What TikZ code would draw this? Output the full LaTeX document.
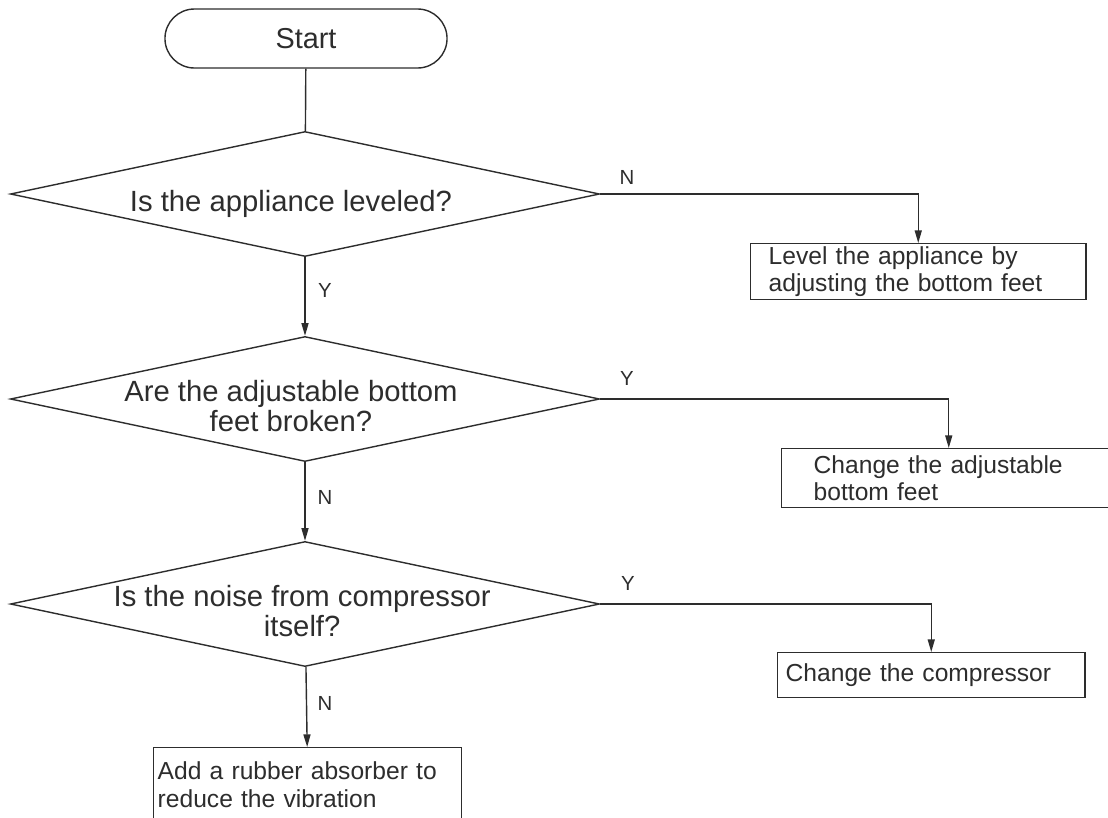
\documentclass[tikz,border=0pt]{standalone}
\usepackage{fontspec}
\setmainfont{Liberation Sans}
\usepackage{tikz}
\usetikzlibrary{arrows.meta, positioning, shapes.geometric, shapes.misc}
\usepackage{xcolor}
\definecolor{inkcolor}{RGB}{45,45,45}
% question text takes no room, so the diamond keeps its own size
\newcommand{\asktext}[2][-20pt]{\makebox[0pt]{\hspace{#1}\smash{\raisebox{-0.62em}{%
  \begin{tabular}{@{}c@{}}#2\end{tabular}}}}}
\tikzset{
  term/.style   = {rounded rectangle, draw=inkcolor, line width=1pt, minimum width=70.5mm,
                   minimum height=14.75mm, inner sep=0pt, font=\fontsize{20.5}{23}\selectfont},
  quest/.style  = {diamond, draw=inkcolor, line width=1pt, minimum width=147.25mm,
                   minimum height=31.25mm, inner sep=0pt, font=\fontsize{20.8}{20.5}\selectfont},
  fixbox/.style = {rectangle, draw=inkcolor, line width=1pt, anchor=north west, align=left,
                   inner ysep=0pt, font=\fontsize{17.5}{19.5}\selectfont},
  arrow/.style  = {-{Triangle[length=9pt, width=5pt]}, line width=1pt, color=inkcolor},
  link/.style   = {line width=1pt, color=inkcolor},
  yn/.style     = {font=\fontsize{14.5}{16}\selectfont, inner sep=1pt},
}

\begin{document}
\begin{tikzpicture}[x=0.025cm, y=-0.025cm, every node/.style={text=inkcolor}]

\useasboundingbox (0,0) rectangle (1108,817);
\clip (0,0) rectangle (1108,817);

\node[term] (start) at (306,38.5) {Start};

\node[quest] (q1) at (305,194) {\asktext{Is the appliance leveled?}};
\node[quest] (q2) at (305,399) {\asktext{Are the adjustable bottom\\feet broken?}};
\node[quest] (q3) at (305,604) {\asktext[-4pt]{Is the noise from compressor\\itself?}};

\node[fixbox, text width=74.75mm, inner xsep=4.5mm, minimum height=14mm] (fix1) at (750,243)
  {Level the appliance by\\adjusting the bottom feet};
\node[fixbox, text width=67.5mm, inner xsep=8mm, minimum height=14.75mm] (fix2) at (781,448)
  {Change the adjustable\\bottom feet};
\node[fixbox, text width=72.75mm, inner xsep=2mm, minimum height=11.25mm] (fix3) at (777,652)
  {Change the compressor};
\node[fixbox, text width=75mm, inner xsep=1mm, minimum height=18.5mm] (fix4) at (153,747)
  {Add a rubber absorber to\\reduce the vibration};

% main line
\draw[link] (start) -- (q1);
\draw[arrow] (q1) -- (q2);
\draw[arrow] (q2) -- (q3);
\draw[arrow] (q3) -- (fix4);

% branches
\draw[arrow] (q1.east) -| (fix1.north);
\draw[arrow] (q2.east) -| (fix2.north);
\draw[arrow] (q3.east) -| (fix3.north);

\node[yn] (n1) at (627,177) {N};
\node[yn] (y1) at (325,290) {Y};
\node[yn] (y2) at (627,378) {Y};
\node[yn] (n2) at (325,497) {N};
\node[yn] (y3) at (628,583) {Y};
\node[yn] (n3) at (325,703) {N};

\end{tikzpicture}
\end{document}
